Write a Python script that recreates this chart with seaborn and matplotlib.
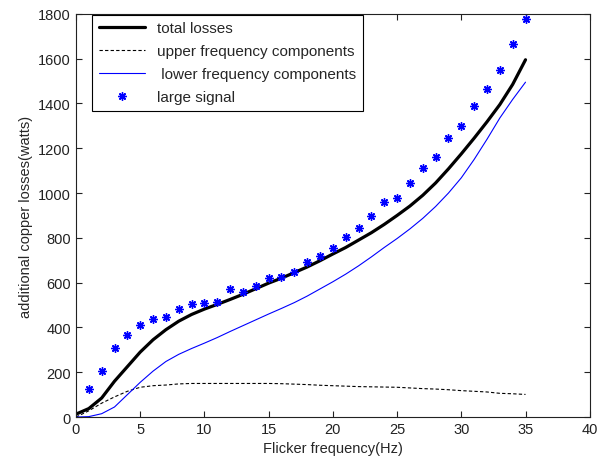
import numpy as np
import matplotlib
matplotlib.use("Agg")
import matplotlib.pyplot as plt
import seaborn as sns

# frequencies (Hz)
freq = np.arange(0, 36)

# total losses (watts)
total = [13, 38, 85, 160, 225, 290, 345, 390, 428, 458,
         482, 503, 525, 548, 573, 598, 620, 645, 670, 698,
         728, 757, 790, 823, 860, 900, 942, 990, 1045, 1108,
         1175, 1245, 1318, 1395, 1485, 1595]

# upper frequency components
upper = [0, 28, 62, 90, 115, 133, 140, 143, 148, 150,
         150, 150, 150, 150, 150, 150, 149, 147, 145, 142,
         140, 138, 136, 135, 134, 133, 130, 127, 125, 122,
         118, 115, 112, 106, 104, 101]

# lower frequency components
lower = [0, 2, 15, 45, 100, 155, 205, 248, 280, 306,
         330, 355, 382, 408, 434, 460, 485, 511, 540, 572,
         604, 638, 675, 715, 757, 797, 840, 887, 940, 1000,
         1068, 1150, 1240, 1335, 1418, 1495]

# large signal measurements
sig_freq = np.arange(1, 36)
large = [125, 207, 308, 366, 412, 438, 445, 482, 503, 508,
         515, 572, 560, 584, 619, 625, 646, 691, 721, 756,
         804, 843, 899, 959, 978, 1044, 1111, 1160, 1245, 1301,
         1388, 1465, 1550, 1666, 1775]

sns.set_style("ticks")
plt.rcParams['font.family'] = ['Liberation Sans', 'DejaVu Sans']
plt.rcParams['font.size'] = 10

fig = plt.figure(figsize=(6.03, 4.64), dpi=100)
ax = fig.add_axes([0.126, 0.099, 0.852, 0.869])

sns.lineplot(x=freq, y=total, ax=ax, color='black', linewidth=2.3, label='total losses')
sns.lineplot(x=freq, y=upper, ax=ax, color='black', linewidth=0.8, linestyle=(0, (3, 2)),
             label='upper frequency components')
sns.lineplot(x=freq, y=lower, ax=ax, color='blue', linewidth=0.8, label=' lower frequency components')
sns.lineplot(x=sig_freq, y=large, ax=ax, color='blue', linestyle='none', marker=(8, 2, 0),
             markersize=6, markeredgewidth=1.0, markeredgecolor='blue', label='large signal')

ax.set_xlim(0, 40)
ax.set_ylim(0, 1800)
ax.set_xticks(range(0, 41, 5))
ax.set_yticks(range(0, 1801, 200))
ax.tick_params(direction='in', top=True, right=True, length=4, labelsize=10.5, colors='#222222')
for s in ax.spines.values():
    s.set_visible(True)
    s.set_linewidth(0.8)
    s.set_color('#222222')

ax.set_xlabel("Flicker frequency(Hz)", fontsize=10.5)
ax.set_ylabel("additional copper losses(watts)", fontsize=10.5)

leg = ax.legend(loc='upper left', bbox_to_anchor=(0.03, 1.0), borderaxespad=0.05,
                fancybox=False, framealpha=1, edgecolor='black', fontsize=11,
                handlelength=3.0, labelspacing=0.58, borderpad=0.45)
leg.get_frame().set_linewidth(0.8)

fig.savefig("out.png", dpi=100)
